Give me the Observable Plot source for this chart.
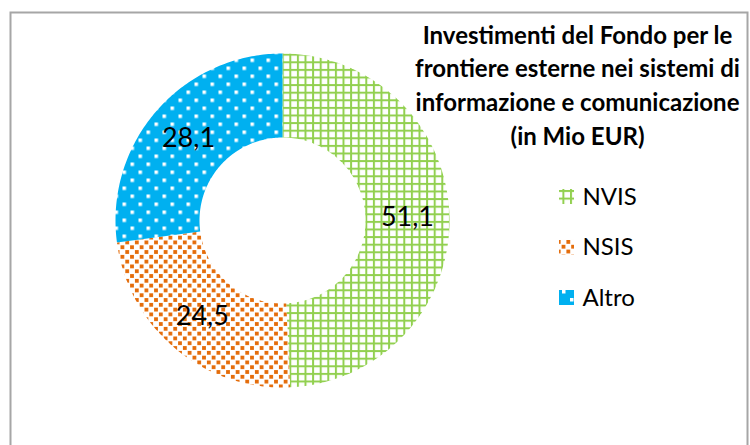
<!DOCTYPE html>
<html>
<head>
<meta charset="utf-8">
<script src="https://cdn.jsdelivr.net/npm/d3@7"></script>
<script src="https://cdn.jsdelivr.net/npm/@observablehq/plot@0.6"></script>
<style>
  html, body { margin: 0; padding: 0; background: #ffffff; }
  #chart svg { display: block; font-family: Lato, "Open Sans", sans-serif; }
</style>
</head>
<body>
<svg width="0" height="0" style="position:absolute">
  <defs>
    <pattern id="pat-nvis" patternUnits="userSpaceOnUse" width="7.6" height="7.6">
      <rect width="7.6" height="7.6" fill="#ffffff"></rect>
      <rect x="0" y="0" width="2" height="7.6" fill="#92D050"></rect>
      <rect x="0" y="0" width="7.6" height="2" fill="#92D050"></rect>
    </pattern>
    <pattern id="pat-nsis" patternUnits="userSpaceOnUse" width="9.6" height="9.6">
      <rect width="9.6" height="9.6" fill="#ffffff"></rect>
      <rect x="0" y="0" width="3.8" height="3.8" fill="#E46C0A"></rect>
      <rect x="4.8" y="4.8" width="3.8" height="3.8" fill="#E46C0A"></rect>
    </pattern>
    <pattern id="pat-altro" patternUnits="userSpaceOnUse" width="16" height="16">
      <rect width="16" height="16" fill="#00B0F0"></rect>
      <rect x="2" y="2" width="3.5" height="3.5" fill="#ffffff"></rect>
      <rect x="10" y="10" width="3.5" height="3.5" fill="#ffffff"></rect>
    </pattern>
  </defs>
</svg>
<div id="chart"></div>
<script>
// ---- data ----
const categories = ["NVIS", "NSIS", "Altro"];
const values = [51.1, 24.5, 28.1];
const patterns = ["url(#pat-nvis)", "url(#pat-nsis)", "url(#pat-altro)"];
const titleLines = [
  "Investimenti del Fondo per le",
  "frontiere esterne nei sistemi di",
  "informazione e comunicazione",
  "(in Mio EUR)"
];

// ---- layout ----
const W = 750, H = 445;
const cx = 282, cy = 220, rOuter = 167, rInner = 83;

const table = categories.map((c, i) => ({cat: c, value: values[i], fill: patterns[i], index: i}));
const pie = d3.pie().sort(null).value(d => d.value)(table);

// arc outlines derived from the pie angles
const arcPts = [];
pie.forEach(p => {
  const n = 120;
  for (let k = 0; k <= n; k++) {
    const a = p.startAngle + (p.endAngle - p.startAngle) * k / n;
    arcPts.push({cat: p.data.cat, fill: p.data.fill, x: cx + rOuter * Math.sin(a), y: cy - rOuter * Math.cos(a)});
  }
  for (let k = n; k >= 0; k--) {
    const a = p.startAngle + (p.endAngle - p.startAngle) * k / n;
    arcPts.push({cat: p.data.cat, fill: p.data.fill, x: cx + rInner * Math.sin(a), y: cy - rInner * Math.cos(a)});
  }
});

const rMid = (rOuter + rInner) / 2;
const labels = pie.map(p => {
  const a = (p.startAngle + p.endAngle) / 2;
  return {x: cx + rMid * Math.sin(a), y: cy - rMid * Math.cos(a),
          text: d3.format(".1f")(p.data.value).replace(".", ",")};
});

const legendTop = 196.5, legendStep = 50.5;

const chart = Plot.plot({
  width: W,
  height: H,
  margin: 0,
  x: {domain: [0, W], range: [0, W], axis: null},
  y: {domain: [0, H], range: [0, H], axis: null},
  color: {type: "identity"},
  marks: [
    Plot.frame({stroke: "#A6A6A6", strokeWidth: 2, insetLeft: 10, insetTop: 12, insetRight: 3, insetBottom: -10}),
    Plot.line(arcPts, {x: "x", y: "y", z: "cat", fill: "fill", stroke: "none", curve: "linear-closed"}),
    Plot.text(labels, {x: "x", y: "y", text: "text", fontSize: 27, fill: "#000000"}),
    Plot.text([titleLines.join("\n")], {x: 577, y: 83, text: d => d, fontSize: 24, fontWeight: "bold", lineHeight: 1.4, fill: "#000000"}),
    Plot.rect(table, {x1: 559, x2: 574, y1: d => legendTop - 7.5 + d.index * legendStep, y2: d => legendTop + 7.5 + d.index * legendStep, fill: "fill"}),
    Plot.text(table, {x: 582, y: d => legendTop + d.index * legendStep, text: "cat", textAnchor: "start", fontSize: 24, fill: "#000000"})
  ]
});
document.getElementById("chart").append(chart);
</script>
</body>
</html>
